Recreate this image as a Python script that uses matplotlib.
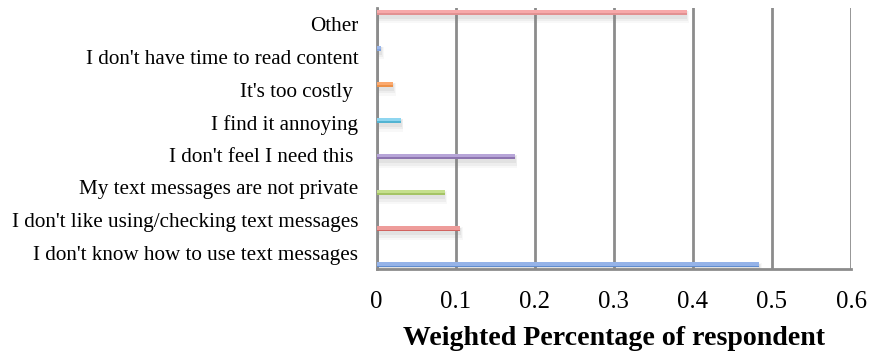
import matplotlib
matplotlib.use("Agg")
import matplotlib.pyplot as plt
import numpy as np

# Reasons, listed bottom to top
categories = [
    "I don't know how to use text messages",
    "I don't like using/checking text messages",
    "My text messages are not private",
    "I don't feel I need this ",
    "I find it annoying",
    "It's too costly ",
    "I don't have time to read content",
    "Other",
]
values = [0.484, 0.106, 0.086, 0.175, 0.031, 0.021, 0.006, 0.392]

light_colors = ["#95B3E8", "#EE9C9A", "#C6E08E", "#B7A5D8", "#8FD6F0", "#FBA96E", "#9CB8EC", "#F7A9AA"]
dark_colors = ["#4F7FC6", "#C8504D", "#9BBB59", "#8064A2", "#3FA9C9", "#E98A3C", "#7A9CDA", "#DC8A8B"]

xticks = [0, 0.1, 0.2, 0.3, 0.4, 0.5, 0.6]
xtick_labels = ["0", "0.1", "0.2", "0.3", "0.4", "0.5", "0.6"]

fig = plt.figure(figsize=(8.69, 3.56), dpi=100)
ax = fig.add_axes([0.4333, 0.2444, 0.9793 - 0.4333, 0.9775 - 0.2444])

n = len(categories)
slot = 0.107          # offset of each series within the cluster
bar_h = 0.15
idx = np.arange(n)
ypos = idx + (idx - (n - 1) / 2) * slot

# soft drop shadow under each bar
for dy, dx, a, grow in [(0.09, 0.001, 0.10, 0.08), (0.12, 0.002, 0.08, 0.16), (0.15, 0.003, 0.05, 0.24)]:
    ax.barh(ypos - dy, np.array(values) + dx, height=bar_h + grow, color="#7F7F7F",
            alpha=a, linewidth=0, zorder=2)

# bar body: light top, darker bottom edge
ax.barh(ypos, values, height=bar_h, color=light_colors, linewidth=0, zorder=3)
ax.barh(ypos - bar_h * 0.33, values, height=bar_h * 0.34, color=dark_colors,
        alpha=0.75, linewidth=0, zorder=4)

ax.set_xlim(0, 0.6)
ax.set_ylim(-0.5, n - 0.5)

ax.set_xticks(xticks)
ax.set_xticklabels(xtick_labels, fontfamily="Liberation Serif", fontsize=17.8)
ax.set_yticks(idx)
ax.set_yticklabels(categories, fontfamily="Liberation Serif", fontsize=15.2)
ax.tick_params(axis="both", length=0)
ax.tick_params(axis="y", pad=13)
ax.tick_params(axis="x", pad=16)

ax.grid(axis="x", color="#8C8C8C", linewidth=2.0, zorder=1)
ax.set_axisbelow(True)
for s in ["top", "right"]:
    ax.spines[s].set_visible(False)
for s in ["left", "bottom"]:
    ax.spines[s].set_color("#8C8C8C")
    ax.spines[s].set_linewidth(2.0)

ax.set_xlabel("Weighted Percentage of respondent", fontfamily="Liberation Serif",
              fontweight="bold", fontsize=20.1, labelpad=9)

fig.savefig("out.png", dpi=100)
